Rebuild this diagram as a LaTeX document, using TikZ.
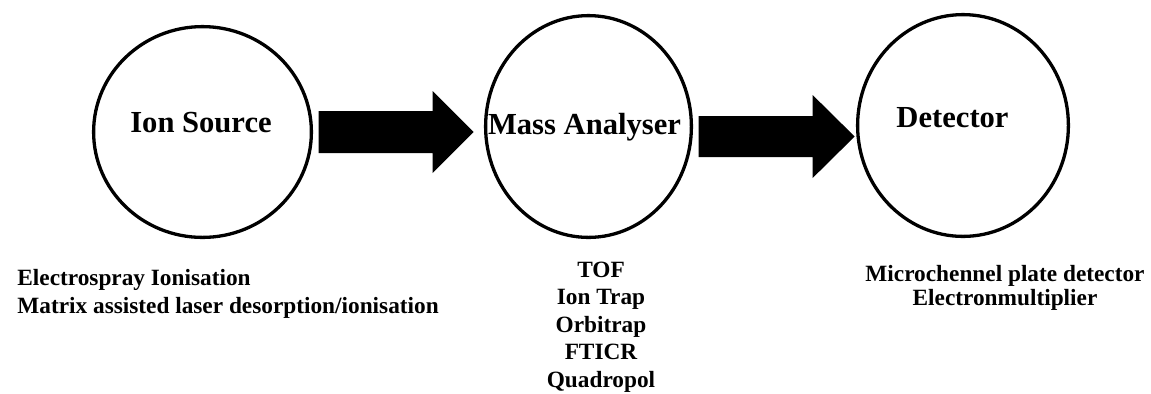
\documentclass[tikz,border=0pt]{standalone}
\usepackage{fontspec}
\setmainfont{Liberation Serif}
\usetikzlibrary{shapes.geometric, calc, positioning}

\begin{document}
\begin{tikzpicture}[x=0.5pt, y=-0.5pt]
        % Stiluri
        \tikzstyle{stage} = [draw, ellipse, line width=1.65pt, inner sep=0pt]
        \tikzstyle{title} = [font=\fontsize{15.3}{18}\selectfont\bfseries, inner sep=0pt, anchor=base]
        \tikzstyle{list} = [inner sep=0pt, anchor=base]
        \tikzstyle{bigarrow} = [fill=black]

        \useasboundingbox (0,0) rectangle (1151,393);

        % --- Etape ---
        \node [stage, minimum width=108.9pt, minimum height=105.4pt] (src) at (202.5,132) {};
        \node [stage, minimum width=102.9pt, minimum height=110.9pt] (mass) at (588.5,126.5) {};
        \node [stage, minimum width=105.4pt, minimum height=110.9pt] (det) at (963,125.5) {};

        \node [title] (srclbl) at (201,132) {Ion Source};
        \node [title] (masslbl) at (584.5,134) {Mass Analyser};
        \node [title] (detlbl) at (952.5,127) {Detector};

        % --- Sageti ---
        \fill [bigarrow] ($(src.east)+(5.6,-21)$) -- ++(114,0) -- ++(0,-20) -- ++(41,41) -- ++(-41,41) -- ++(0,-20) -- ++(-114,0) -- cycle;
        \fill [bigarrow] ($(mass.east)+(5.6,-10.5)$) -- ++(114,0) -- ++(0,-21) -- ++(42,41.5) -- ++(-42,41.5) -- ++(0,-21) -- ++(-114,0) -- cycle;

        % --- Exemple (ancora = ultima linie) ---
        \node [list, anchor=base west, align=left, font=\fontsize{11.65}{14}\selectfont\bfseries] (srclist) at (17,313)
            {Electrospray Ionisation\\Matrix assisted laser desorption/ionisation};
        \node [list, align=center, font=\fontsize{11.65}{13.75}\selectfont\bfseries] (masslist) at (601,387)
            {TOF\\Ion Trap\\Orbitrap\\FTICR\\Quadropol};
        \node [list, align=center, font=\fontsize{11.65}{11.65}\selectfont\bfseries] (detlist) at (1005,305)
            {Microchennel plate detector\\Electronmultiplier};

    \end{tikzpicture}
\end{document}
